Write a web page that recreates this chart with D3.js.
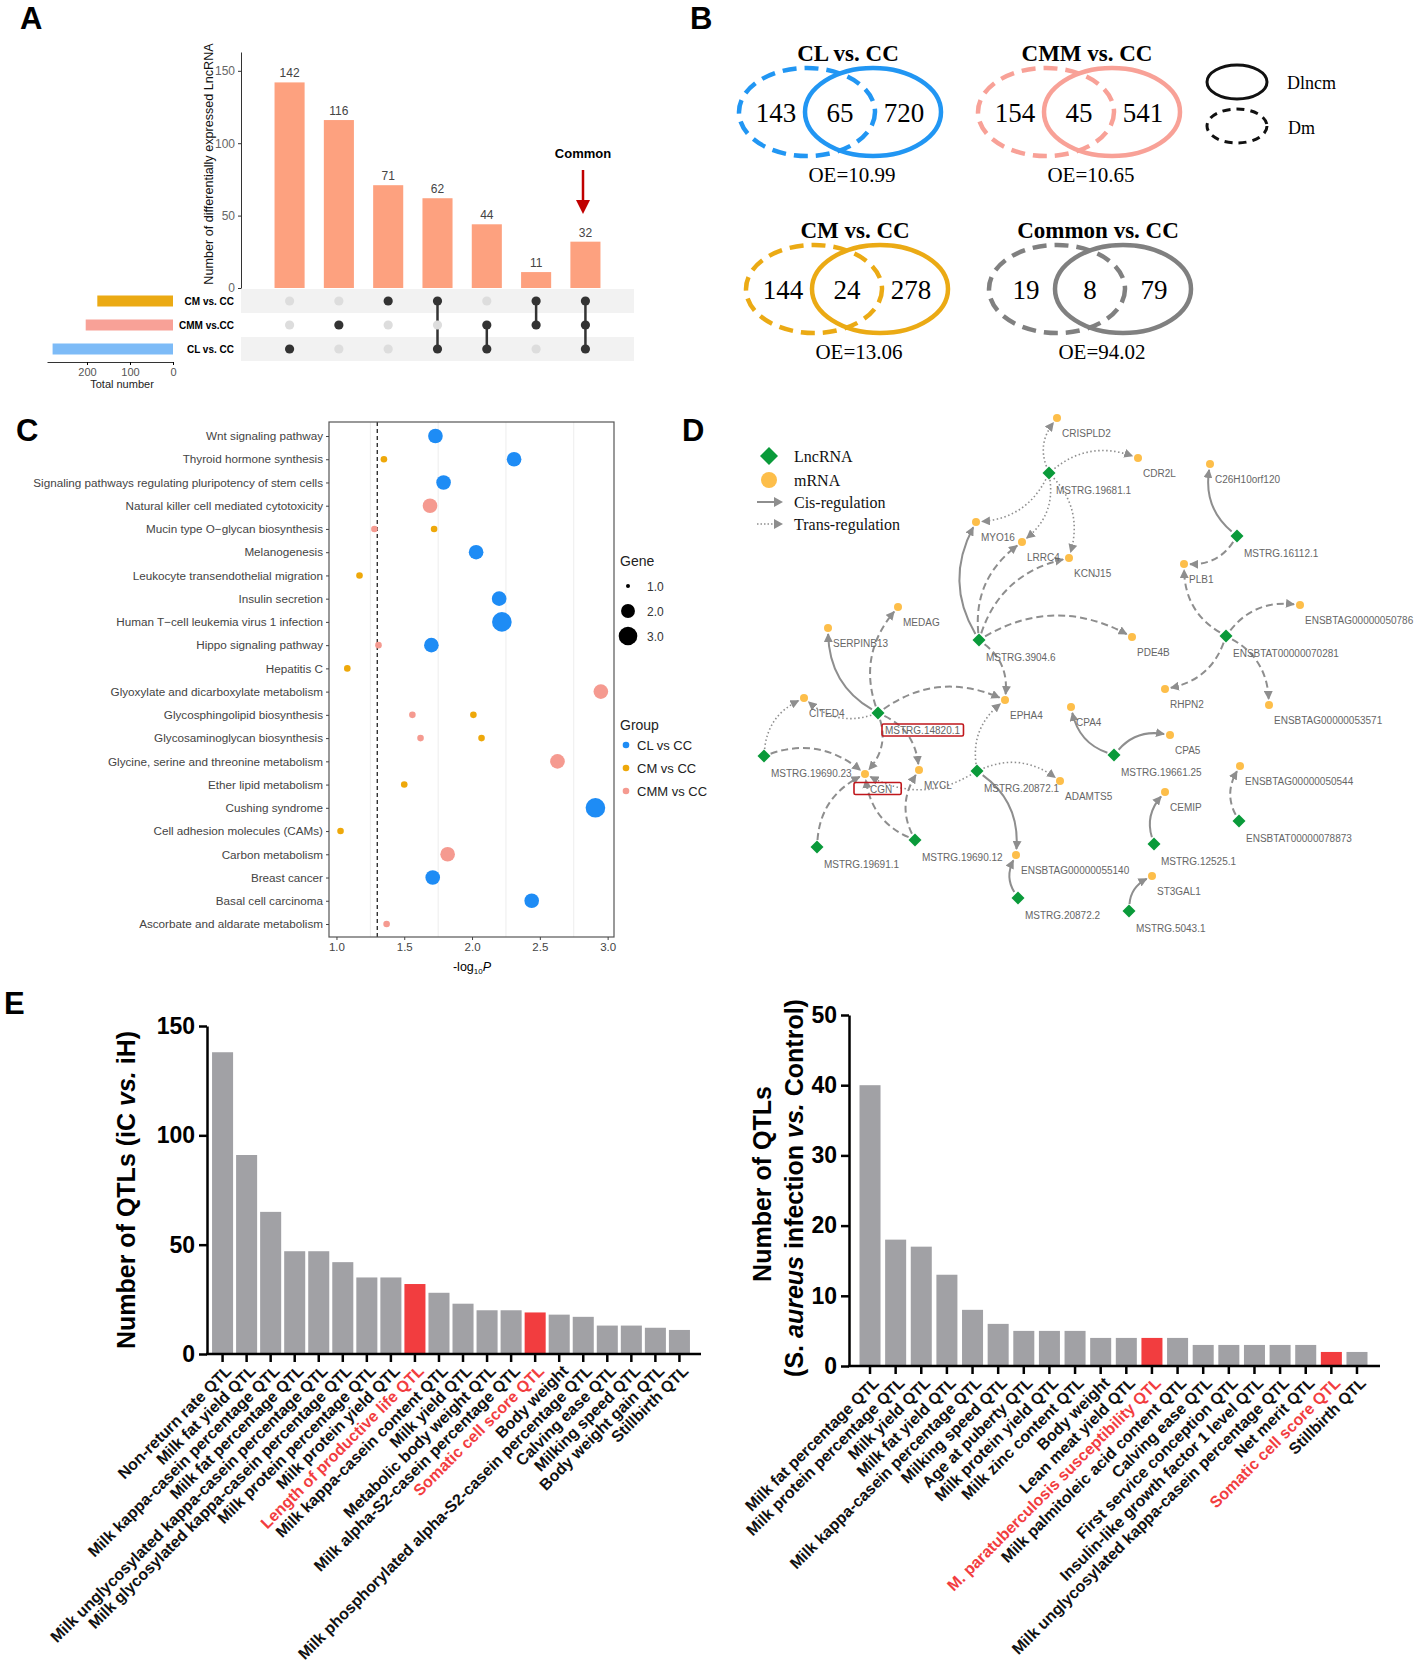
<!DOCTYPE html>
<html>
<head>
<meta charset="utf-8">
<script src="https://cdn.jsdelivr.net/npm/d3@7"></script>
<style>
  body { margin: 0; background: #fff; }
  svg { display: block; }
</style>
</head>
<body>
<svg id="fig" width="1418" height="1680"></svg>
<script>
//==================== DATA ====================
// A - upset plot
const upsetCounts = [142, 116, 71, 62, 44, 11, 32];
const upsetSets = ["CM vs. CC", "CMM vs.CC", "CL vs. CC"];
const upsetMembers = [[2], [1], [0], [0, 2], [1, 2], [0, 1], [0, 1, 2]];
const setTotals = [176, 203, 280];
const setColors = ["#EBAA14", "#F8A197", "#7DBBF7"];

// B - venn diagrams
const vennTitles = ["CL vs. CC", "CMM vs. CC", "CM vs. CC", "Common vs. CC"];
const vennLeft = [143, 154, 144, 19];
const vennMid = [65, 45, 24, 8];
const vennRight = [720, 541, 278, 79];
const vennOE = ["10.99", "10.65", "13.06", "94.02"];
const vennColors = ["#2196F3", "#F8A197", "#EBAA14", "#808080"];

// C - KEGG enrichment
const pathways = ["Wnt signaling pathway", "Thyroid hormone synthesis",
  "Signaling pathways regulating pluripotency of stem cells", "Natural killer cell mediated cytotoxicity",
  "Mucin type O\u2212glycan biosynthesis", "Melanogenesis", "Leukocyte transendothelial migration",
  "Insulin secretion", "Human T\u2212cell leukemia virus 1 infection", "Hippo signaling pathway", "Hepatitis C",
  "Glyoxylate and dicarboxylate metabolism", "Glycosphingolipid biosynthesis", "Glycosaminoglycan biosynthesis",
  "Glycine, serine and threonine metabolism", "Ether lipid metabolism", "Cushing syndrome",
  "Cell adhesion molecules (CAMs)", "Carbon metabolism", "Breast cancer", "Basal cell carcinoma",
  "Ascorbate and aldarate metabolism"];
const groups = ["CL vs CC", "CM vs CC", "CMM vs CC"];
const groupColors = ["#1E8CF5", "#EEA80A", "#F59A90"];
const enrichTerm  = [0, 1, 1, 2, 3, 4, 4, 5, 6, 7, 8, 9, 9, 10, 11, 12, 12, 13, 13, 14, 15, 16, 17, 18, 19, 20, 21];
const enrichGroup = [0, 1, 0, 0, 2, 2, 1, 0, 1, 0, 0, 2, 0, 1, 2, 2, 1, 2, 1, 2, 1, 0, 1, 2, 0, 0, 2];
const enrichLogP  = [1.73, 1.35, 2.31, 1.79, 1.69, 1.28, 1.72, 2.03, 1.17, 2.20, 2.22, 1.31, 1.70, 1.08, 2.95,
  1.56, 2.01, 1.62, 2.07, 2.63, 1.50, 2.91, 1.03, 1.82, 1.71, 2.44, 1.37];
const enrichGene  = [2, 1, 2, 2, 2, 1, 1, 2, 1, 2, 3, 1, 2, 1, 2, 1, 1, 1, 1, 2, 1, 3, 1, 2, 2, 2, 1];
const geneLegend = [1, 2, 3];

// D - regulation network (layout coordinates)
const lncNames = ["MSTRG.19681.1", "MSTRG.16112.1", "MSTRG.3904.6", "ENSBTAT00000070281", "MSTRG.14820.1",
  "MSTRG.19690.23", "MSTRG.20872.1", "MSTRG.19661.25", "MSTRG.19691.1", "MSTRG.19690.12", "MSTRG.20872.2",
  "MSTRG.12525.1", "ENSBTAT00000078873", "MSTRG.5043.1"];
const lncX = [329, 517, 259, 506, 158, 44, 257, 394, 97, 195, 298, 434, 519, 409];
const lncY = [73, 136, 240, 236, 313, 356, 371, 355, 447, 440, 498, 444, 421, 511];
const mrnaNames = ["CRISPLD2", "CDR2L", "C26H10orf120", "MYO16", "LRRC4", "KCNJ15", "PLB1", "MEDAG", "SERPINB13",
  "PDE4B", "ENSBTAG00000050786", "EPHA4", "RHPN2", "ENSBTAG00000053571", "CITED4", "CPA4", "CPA5", "CGN", "MYCL",
  "ADAMTS5", "CEMIP", "ENSBTAG00000050544", "ENSBTAG00000055140", "ST3GAL1"];
const mrnaX = [337, 418, 490, 256, 302, 349, 464, 178, 108, 412, 580, 285, 445, 549, 84, 351, 450, 145, 199, 340, 445, 520, 296, 432];
const mrnaY = [18, 58, 64, 122, 142, 158, 164, 207, 228, 237, 205, 300, 289, 305, 298, 307, 335, 374, 370, 381, 392, 366, 455, 476];
const regEdges = [
  ["MSTRG.19681.1", "CRISPLD2", "trans"], ["MSTRG.19681.1", "CDR2L", "trans"], ["MSTRG.19681.1", "MYO16", "trans"],
  ["MSTRG.19681.1", "LRRC4", "trans"], ["MSTRG.19681.1", "KCNJ15", "trans"],
  ["MSTRG.16112.1", "C26H10orf120", "cis"], ["MSTRG.16112.1", "PLB1", "dash"],
  ["MSTRG.3904.6", "MYO16", "cis"], ["MSTRG.3904.6", "LRRC4", "dash"], ["MSTRG.3904.6", "KCNJ15", "dash"],
  ["MSTRG.3904.6", "PDE4B", "dash"], ["MSTRG.3904.6", "EPHA4", "dash"],
  ["ENSBTAT00000070281", "PLB1", "dash"], ["ENSBTAT00000070281", "ENSBTAG00000050786", "dash"],
  ["ENSBTAT00000070281", "RHPN2", "dash"], ["ENSBTAT00000070281", "ENSBTAG00000053571", "dash"],
  ["MSTRG.14820.1", "SERPINB13", "cis"], ["MSTRG.14820.1", "MEDAG", "dash"], ["MSTRG.14820.1", "EPHA4", "dash"],
  ["MSTRG.14820.1", "CITED4", "trans"], ["MSTRG.14820.1", "CGN", "dash"], ["MSTRG.14820.1", "MYCL", "dash"],
  ["MSTRG.19690.23", "CITED4", "trans"], ["MSTRG.19690.23", "CGN", "dash"],
  ["MSTRG.20872.1", "EPHA4", "trans"], ["MSTRG.20872.1", "ADAMTS5", "trans"], ["MSTRG.20872.1", "CGN", "trans"],
  ["MSTRG.20872.1", "ENSBTAG00000055140", "cis"],
  ["MSTRG.19661.25", "CPA4", "cis"], ["MSTRG.19661.25", "CPA5", "cis"],
  ["MSTRG.19691.1", "CGN", "dash"], ["MSTRG.19690.12", "CGN", "dash"], ["MSTRG.19690.12", "MYCL", "dash"],
  ["MSTRG.20872.2", "ENSBTAG00000055140", "cis"], ["MSTRG.12525.1", "CEMIP", "cis"],
  ["ENSBTAT00000078873", "ENSBTAG00000050544", "dash"], ["MSTRG.5043.1", "ST3GAL1", "cis"]];
const boxedLabels = ["MSTRG.14820.1", "CGN"];

// E - QTL counts
const qtlNamesA = ["Non-return rate QTL", "Milk fat yield QTL", "Milk kappa-casein percentage QTL",
  "Milk fat percentage QTL", "Milk unglycosylated kappa-casein percentage QTL",
  "Milk glycosylated kappa-casein percentage QTL", "Milk protein percentage QTL", "Milk protein yield QTL",
  "Length of productive life QTL", "Milk kappa-casein content QTL", "Milk yield QTL", "Metabolic body weight QTL",
  "Milk alpha-S2-casein percentage QTL", "Somatic cell score QTL", "Body weight",
  "Milk phosphorylated alpha-S2-casein percentage QTL", "Calving ease QTL", "Milking speed QTL",
  "Body weight gain QTL", "Stillbirth QTL"];
const qtlCountsA = [138, 91, 65, 47, 47, 42, 35, 35, 32, 28, 23, 20, 20, 19, 18, 17, 13, 13, 12, 11];
const qtlRedA = ["Length of productive life QTL", "Somatic cell score QTL"];
const qtlNamesB = ["Milk fat percentage QTL", "Milk protein percentage QTL", "Milk yield QTL", "Milk fat yield QTL",
  "Milk kappa-casein percentage QTL", "Milking speed QTL", "Age at puberty QTL", "Milk protein yield QTL",
  "Milk zinc content QTL", "Body weight", "Lean meat yield QTL", "M. paratuberculosis susceptibility QTL",
  "Milk palmitoleic acid content QTL", "Calving ease QTL", "First service conception QTL",
  "Insulin-like growth factor 1 level QTL", "Milk unglycosylated kappa-casein percentage QTL", "Net merit QTL",
  "Somatic cell score QTL", "Stillbirth QTL"];
const qtlCountsB = [40, 18, 17, 13, 8, 6, 5, 5, 5, 4, 4, 4, 4, 3, 3, 3, 3, 3, 2, 2];
const qtlRedB = ["M. paratuberculosis susceptibility QTL", "Somatic cell score QTL"];

//==================== SETUP ====================
const sans = '"Liberation Sans", Arial, Helvetica, sans-serif';
const serif = '"Liberation Serif", "Times New Roman", serif';
const svg = d3.select("#fig");

// panel letters
[["A", 20, 29], ["B", 690, 29], ["C", 16, 441], ["D", 682, 441], ["E", 4, 1014]].forEach(([t, x, y]) => {
  svg.append("text").attr("x", x).attr("y", y).text(t)
    .attr("font-family", sans).attr("font-weight", "bold").attr("font-size", 31);
});

//==================== A: UPSET ====================
const gA = svg.append("g").attr("font-family", sans);
const yA = d3.scaleLinear().domain([0, 163]).range([288, 52]);
const xA = d3.scaleBand().domain(d3.range(upsetCounts.length)).range([241, 634]).paddingInner(0.39).paddingOuter(0.68);
const yRow = d3.scalePoint().domain(d3.range(upsetSets.length)).range([301, 349]);

// matrix stripes
gA.selectAll("rect.stripe").data([0, 2]).join("rect")
  .attr("x", 241).attr("width", 393).attr("y", d => yRow(d) - 12).attr("height", 24).attr("fill", "#F2F2F2");

gA.selectAll("rect.bar").data(upsetCounts).join("rect")
  .attr("x", (d, i) => xA(i)).attr("y", d => yA(d))
  .attr("width", xA.bandwidth()).attr("height", d => yA(0) - yA(d)).attr("fill", "#FDA17F");
gA.selectAll("text.val").data(upsetCounts).join("text")
  .attr("x", (d, i) => xA(i) + xA.bandwidth() / 2).attr("y", d => yA(d) - 5)
  .attr("text-anchor", "middle").attr("font-size", 12).attr("fill", "#444").text(d => d);

const axA = gA.append("g").attr("transform", "translate(241,0)")
  .call(d3.axisLeft(yA).tickValues([0, 50, 100, 150]).tickSize(3).tickSizeOuter(0));
axA.select(".domain").attr("stroke", "#333");
axA.selectAll(".tick line").attr("stroke", "#333");
axA.selectAll(".tick text").attr("fill", "#666").attr("font-size", 12).attr("font-family", sans);
gA.append("text").attr("transform", "translate(213,164) rotate(-90)").attr("text-anchor", "middle")
  .attr("font-size", 12.6).attr("fill", "#111").text("Number of differentially expressed LncRNA");

// matrix dots and connectors
upsetMembers.forEach((m, c) => {
  const cx = xA(c) + xA.bandwidth() / 2;
  if (m.length > 1) {
    gA.append("line").attr("x1", cx).attr("x2", cx)
      .attr("y1", yRow(d3.min(m))).attr("y2", yRow(d3.max(m))).attr("stroke", "#333").attr("stroke-width", 2.5);
  }
  upsetSets.forEach((s, r) => {
    gA.append("circle").attr("cx", cx).attr("cy", yRow(r)).attr("r", 4.6)
      .attr("fill", m.includes(r) ? "#333" : "#DDDDDD");
  });
});

// set size bars
const xSet = d3.scaleLinear().domain([0, 293]).range([173, 47]);
gA.selectAll("rect.set").data(setTotals).join("rect")
  .attr("x", d => xSet(d)).attr("width", d => xSet(0) - xSet(d))
  .attr("y", (d, i) => yRow(i) - 5.5).attr("height", 11).attr("fill", (d, i) => setColors[i]);
const axSet = gA.append("g").attr("transform", "translate(0,362)")
  .call(d3.axisBottom(xSet).tickValues([200, 100, 0]).tickSize(3).tickSizeOuter(0));
axSet.select(".domain").attr("stroke", "#333");
axSet.selectAll(".tick text").attr("fill", "#555").attr("font-size", 11).attr("font-family", sans);
gA.append("text").attr("x", 122).attr("y", 388).attr("text-anchor", "middle").attr("font-size", 11)
  .attr("fill", "#222").text("Total number");
gA.selectAll("text.setlab").data(upsetSets).join("text")
  .attr("x", 234).attr("y", (d, i) => yRow(i) + 3.5).attr("text-anchor", "end")
  .attr("font-size", 10).attr("font-weight", "bold").text(d => d);

// Common arrow
gA.append("text").attr("x", 583).attr("y", 158).attr("text-anchor", "middle")
  .attr("font-size", 13).attr("font-weight", "bold").text("Common");
gA.append("line").attr("x1", 583).attr("x2", 583).attr("y1", 170).attr("y2", 202)
  .attr("stroke", "#C00000").attr("stroke-width", 2.5);
gA.append("path").attr("d", "M576,200L590,200L583,214Z").attr("fill", "#C00000");

//==================== B: VENN ====================
const gB = svg.append("g").attr("font-family", serif);
const vennCx = [840, 1079, 847, 1090];
const vennCy = [112, 112, 289, 289];
vennTitles.forEach((t, i) => {
  const cx = vennCx[i], cy = vennCy[i], col = vennColors[i];
  gB.append("ellipse").attr("cx", cx - 33).attr("cy", cy).attr("rx", 68).attr("ry", 44)
    .attr("fill", "none").attr("stroke", col).attr("stroke-width", 4.5).attr("stroke-dasharray", "14,8");
  gB.append("ellipse").attr("cx", cx + 33).attr("cy", cy).attr("rx", 68).attr("ry", 44)
    .attr("fill", "none").attr("stroke", col).attr("stroke-width", 4.5);
  gB.append("text").attr("x", cx + 8).attr("y", cy - 51).attr("text-anchor", "middle")
    .attr("font-size", 23).attr("font-weight", "bold").text(t);
  [[vennLeft[i], -64], [vennMid[i], 0], [vennRight[i], 64]].forEach(([v, dx]) => {
    gB.append("text").attr("x", cx + dx).attr("y", cy + 10).attr("text-anchor", "middle")
      .attr("font-size", 27).text(v);
  });
  gB.append("text").attr("x", cx + 12).attr("y", cy + 70).attr("text-anchor", "middle")
    .attr("font-size", 21).text("OE=" + vennOE[i]);
});
// legend
gB.append("ellipse").attr("cx", 1237).attr("cy", 82).attr("rx", 30).attr("ry", 17)
  .attr("fill", "none").attr("stroke", "#111").attr("stroke-width", 3);
gB.append("ellipse").attr("cx", 1237).attr("cy", 126).attr("rx", 30).attr("ry", 17)
  .attr("fill", "none").attr("stroke", "#111").attr("stroke-width", 3).attr("stroke-dasharray", "8,6");
gB.append("text").attr("x", 1287).attr("y", 89).attr("font-size", 18).text("Dlncm");
gB.append("text").attr("x", 1288).attr("y", 134).attr("font-size", 18).text("Dm");

//==================== C: ENRICHMENT DOTS ====================
const gC = svg.append("g").attr("font-family", sans);
const xC = d3.scaleLinear().domain([0.945, 3.047]).range([329, 614]);
const yC = d3.scalePoint().domain(pathways).range([436, 924]);
const rC = g => Math.sqrt(d3.scaleLinear().domain([1, 3]).range([3.3 * 3.3, 9.8 * 9.8])(g));

gC.append("rect").attr("x", 329).attr("y", 422).attr("width", 285).attr("height", 515).attr("fill", "#fff");
gC.selectAll("line.grid").data([1.25, 1.75, 2.25, 2.75]).join("line")
  .attr("x1", d => xC(d)).attr("x2", d => xC(d)).attr("y1", 422).attr("y2", 937)
  .attr("stroke", "#EDEDED").attr("stroke-width", 1);
gC.append("line").attr("x1", xC(1.301)).attr("x2", xC(1.301)).attr("y1", 422).attr("y2", 937)
  .attr("stroke", "#222").attr("stroke-width", 1.3).attr("stroke-dasharray", "4,3");
gC.append("rect").attr("x", 329).attr("y", 422).attr("width", 285).attr("height", 515)
  .attr("fill", "none").attr("stroke", "#555").attr("stroke-width", 1.2);

const axCy = gC.append("g").attr("transform", "translate(329,0)").call(d3.axisLeft(yC).tickSize(3).tickSizeOuter(0));
axCy.select(".domain").remove();
axCy.selectAll(".tick line").attr("stroke", "#444");
axCy.selectAll(".tick text").attr("fill", "#444").attr("font-size", 11.7).attr("font-family", sans);
const axCx = gC.append("g").attr("transform", "translate(0,937)")
  .call(d3.axisBottom(xC).tickValues([1, 1.5, 2, 2.5, 3]).tickFormat(d3.format(".1f")).tickSize(3).tickSizeOuter(0));
axCx.select(".domain").remove();
axCx.selectAll(".tick line").attr("stroke", "#444");
axCx.selectAll(".tick text").attr("fill", "#444").attr("font-size", 11.5).attr("font-family", sans);
const xt = gC.append("text").attr("x", 472).attr("y", 971).attr("text-anchor", "middle").attr("font-size", 12.5);
xt.append("tspan").text("-log");
xt.append("tspan").attr("font-size", 8).attr("dy", 3).text("10");
xt.append("tspan").attr("font-style", "italic").attr("dy", -3).text("P");

gC.selectAll("circle.pt").data(enrichTerm).join("circle")
  .attr("cx", (d, i) => xC(enrichLogP[i])).attr("cy", d => yC(pathways[d]))
  .attr("r", (d, i) => rC(enrichGene[i])).attr("fill", (d, i) => groupColors[enrichGroup[i]]);

// legends
gC.append("text").attr("x", 620).attr("y", 566).attr("font-size", 14).attr("fill", "#222").text("Gene");
geneLegend.forEach((g, i) => {
  const y = 586 + i * 25;
  gC.append("circle").attr("cx", 628).attr("cy", y).attr("r", g === 1 ? 2 : rC(g) * 0.95).attr("fill", "#000");
  gC.append("text").attr("x", 647).attr("y", y + 4.5).attr("font-size", 12).attr("fill", "#333").text(g.toFixed(1));
});
gC.append("text").attr("x", 620).attr("y", 730).attr("font-size", 14).attr("fill", "#222").text("Group");
groups.forEach((g, i) => {
  const y = 745 + i * 23;
  gC.append("circle").attr("cx", 626).attr("cy", y).attr("r", 3.3).attr("fill", groupColors[i]);
  gC.append("text").attr("x", 637).attr("y", y + 4.5).attr("font-size", 13).attr("fill", "#222").text(g);
});

//==================== D: NETWORK ====================
const gD = svg.append("g").attr("font-family", sans);
const xD = d3.scaleLinear().domain([0, 698]).range([720, 1418]);
const yD = d3.scaleLinear().domain([0, 560]).range([400, 960]);
const pos = {};
lncNames.forEach((n, i) => pos[n] = [xD(lncX[i]), yD(lncY[i])]);
mrnaNames.forEach((n, i) => pos[n] = [xD(mrnaX[i]), yD(mrnaY[i])]);

const defs = svg.append("defs");
defs.append("marker").attr("id", "arr").attr("viewBox", "0 0 10 10").attr("refX", 9).attr("refY", 5)
  .attr("markerWidth", 9).attr("markerHeight", 9).attr("markerUnits", "userSpaceOnUse").attr("orient", "auto")
  .append("path").attr("d", "M0,0L10,5L0,10Z").attr("fill", "#8E8E8E");

function edgePath(s, t, bend) {
  const dx = t[0] - s[0], dy = t[1] - s[1];
  const c = [(s[0] + t[0]) / 2 + bend * dy, (s[1] + t[1]) / 2 - bend * dx];
  const pull = (p, q, r) => {
    const vx = q[0] - p[0], vy = q[1] - p[1], L = Math.hypot(vx, vy);
    return [p[0] + vx / L * r, p[1] + vy / L * r];
  };
  const a = pull(s, c, 7), b = pull(t, c, 6);
  return `M${a[0]},${a[1]}Q${c[0]},${c[1]} ${b[0]},${b[1]}`;
}
const dashFor = { cis: null, dash: "7,4", trans: "1.5,2.5" };
gD.selectAll("path.edge").data(regEdges).join("path")
  .attr("d", d => edgePath(pos[d[0]], pos[d[1]], 0.28))
  .attr("fill", "none").attr("stroke", "#8E8E8E")
  .attr("stroke-width", d => d[2] === "trans" ? 1.6 : 2)
  .attr("stroke-dasharray", d => dashFor[d[2]])
  .attr("marker-end", "url(#arr)");

const diamond = (x, y, h) => `M${x},${y - h}L${x + h},${y}L${x},${y + h}L${x - h},${y}Z`;
gD.selectAll("path.lnc").data(lncNames).join("path")
  .attr("d", d => diamond(pos[d][0], pos[d][1], 6.5)).attr("fill", "#0A9A3A");
gD.selectAll("circle.mrna").data(mrnaNames).join("circle")
  .attr("cx", d => pos[d][0]).attr("cy", d => pos[d][1]).attr("r", 4).attr("fill", "#FDBE4A");
gD.selectAll("text.lnclab").data(lncNames).join("text")
  .attr("x", d => pos[d][0] + 7).attr("y", d => pos[d][1] + 21)
  .attr("font-size", 10).attr("fill", "#666").text(d => d)
  .each(function (d) { if (boxedLabels.includes(d)) d3.select(this).attr("class", "boxed"); });
gD.selectAll("text.mlab").data(mrnaNames).join("text")
  .attr("x", d => pos[d][0] + 5).attr("y", d => pos[d][1] + 18.5)
  .attr("font-size", 10).attr("fill", "#666").text(d => d)
  .each(function (d) { if (boxedLabels.includes(d)) d3.select(this).attr("class", "boxed"); });
gD.selectAll("text.boxed").each(function (d) {
  const b = this.getBBox();
  const padL = d === "CGN" ? 16 : 3, padR = d === "CGN" ? 9 : 3;
  gD.append("rect").attr("x", b.x - padL).attr("y", b.y - 1).attr("width", b.width + padL + padR)
    .attr("height", b.height + 1).attr("fill", "none").attr("stroke", "#C0171C").attr("stroke-width", 1.6).attr("rx", 1.5);
});

// legend
const gDl = gD.append("g").attr("font-family", serif);
gDl.append("path").attr("d", diamond(769, 456, 9)).attr("fill", "#0A9A3A");
gDl.append("circle").attr("cx", 769).attr("cy", 480).attr("r", 8).attr("fill", "#FDBE4A");
gDl.append("line").attr("x1", 757).attr("x2", 775).attr("y1", 502).attr("y2", 502).attr("stroke", "#8E8E8E").attr("stroke-width", 2);
gDl.append("path").attr("d", "M774,497L783,502L774,507Z").attr("fill", "#8E8E8E");
gDl.append("line").attr("x1", 757).attr("x2", 775).attr("y1", 524).attr("y2", 524).attr("stroke", "#8E8E8E")
  .attr("stroke-width", 1.6).attr("stroke-dasharray", "1.5,2");
gDl.append("path").attr("d", "M774,519L783,524L774,529Z").attr("fill", "#8E8E8E");
[["LncRNA", 456], ["mRNA", 480], ["Cis-regulation", 502], ["Trans-regulation", 524]].forEach(([t, y]) => {
  gDl.append("text").attr("x", 794).attr("y", y + 5.5).attr("font-size", 16).attr("fill", "#111").text(t);
});

//==================== E: QTL BARS ====================
function qtlChart(names, counts, red, o) {
  const g = svg.append("g").attr("font-family", sans);
  const x = d3.scaleBand().domain(names).range([o.x0, o.x1]).paddingInner(o.pi).paddingOuter(o.po);
  const y = d3.scaleLinear().domain([0, o.ymax]).range([o.y0, o.y1]);
  g.selectAll("rect").data(names).join("rect")
    .attr("x", d => x(d)).attr("width", x.bandwidth())
    .attr("y", (d, i) => y(counts[i])).attr("height", (d, i) => y(0) - y(counts[i]))
    .attr("fill", d => red.includes(d) ? "#F23D3F" : "#A1A1A5");
  const ay = g.append("g").attr("transform", `translate(${o.x0},0)`)
    .call(d3.axisLeft(y).tickValues(o.ticks).tickSize(8).tickPadding(4).tickSizeOuter(0));
  ay.select(".domain").attr("stroke", "#000").attr("stroke-width", 2.5);
  ay.selectAll(".tick line").attr("stroke", "#000").attr("stroke-width", 2.5);
  ay.selectAll(".tick text").attr("fill", "#000").attr("font-size", 23).attr("font-weight", "bold").attr("font-family", sans);
  g.append("line").attr("x1", o.x0 - 1).attr("x2", o.xEnd).attr("y1", o.y0).attr("y2", o.y0)
    .attr("stroke", "#000").attr("stroke-width", 2.5);
  g.selectAll("line.xt").data(names).join("line")
    .attr("x1", d => x(d) + x.bandwidth() / 2).attr("x2", d => x(d) + x.bandwidth() / 2)
    .attr("y1", o.y0).attr("y2", o.y0 + 8).attr("stroke", "#000").attr("stroke-width", 2.5);
  g.selectAll("text.xl").data(names).join("text")
    .attr("transform", d => `translate(${x(d) + x.bandwidth() / 2 + 6},${o.y0 + 14}) rotate(-45)`)
    .attr("text-anchor", "end").attr("dy", "0.35em").attr("font-size", 16).attr("font-weight", "bold")
    .attr("fill", d => red.includes(d) ? "#F23D3F" : "#111").text(d => d);
  return g;
}

const gE1 = qtlChart(qtlNamesA, qtlCountsA, qtlRedA,
  { x0: 207, x1: 695, pi: 0.125, po: 0.21, y0: 1354, y1: 1026, ymax: 150, ticks: [0, 50, 100, 150], xEnd: 701 });
const t1 = gE1.append("text").attr("transform", "translate(126,1190) rotate(-90)").attr("text-anchor", "middle")
  .attr("dy", "0.35em").attr("font-size", 25).attr("font-weight", "bold");
t1.append("tspan").text("Number of QTLs (iC ");
t1.append("tspan").attr("font-style", "italic").text("vs.");
t1.append("tspan").text(" iH)");

const gE2 = qtlChart(qtlNamesB, qtlCountsB, qtlRedB,
  { x0: 849, x1: 1378, pi: 0.18, po: 0.41, y0: 1366, y1: 1015, ymax: 50, ticks: [0, 10, 20, 30, 40, 50], xEnd: 1380 });
gE2.append("text").attr("transform", "translate(762,1184) rotate(-90)").attr("text-anchor", "middle")
  .attr("dy", "0.35em").attr("font-size", 25).attr("font-weight", "bold").text("Number of QTLs");
const t2 = gE2.append("text").attr("transform", "translate(794,1188) rotate(-90)").attr("text-anchor", "middle")
  .attr("dy", "0.35em").attr("font-size", 25).attr("font-weight", "bold");
t2.append("tspan").text("(S. ");
t2.append("tspan").attr("font-style", "italic").text("aureus");
t2.append("tspan").text(" infection ");
t2.append("tspan").attr("font-style", "italic").text("vs.");
t2.append("tspan").text(" Control)");
</script>
</body>
</html>
